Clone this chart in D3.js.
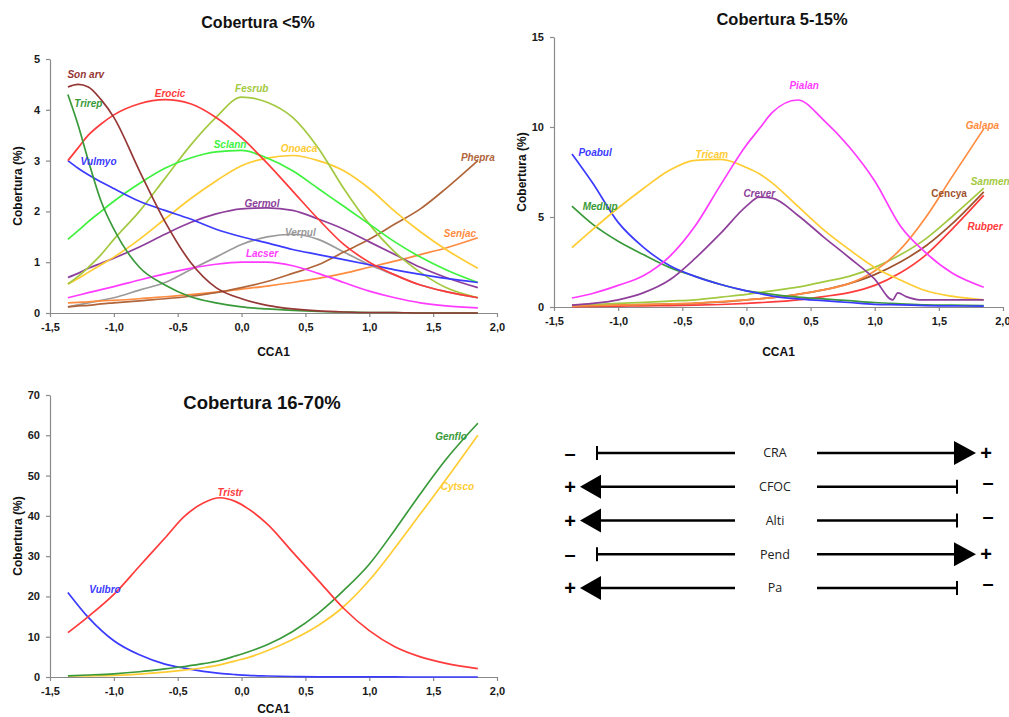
<!DOCTYPE html>
<html>
<head>
<meta charset="utf-8">
<script src="https://cdn.jsdelivr.net/npm/d3@7/dist/d3.min.js"></script>
<style>
  body { margin: 0; background: #fff; }
  svg { display: block; font-family: Arial, "Liberation Sans", sans-serif; }
  .axis path, .axis line { stroke: #8a8a8a; stroke-width: 1.2; }
  .axis text { font-size: 11px; font-weight: bold; fill: #1a1a1a; font-family: Arial, "Liberation Sans", sans-serif; }
</style>
</head>
<body>
<svg id="chart" width="1009" height="717"></svg>
<script>
// ---------- DATA ----------
const xTicks = [-1.5, -1.0, -0.5, 0.0, 0.5, 1.0, 1.5, 2.0];

// Panel 1: Cobertura <5%
const grid1 = [-1.36, -1.28, -1.2, -1.1, -1.0, -0.8, -0.6, -0.4, -0.2, 0, 0.2, 0.4, 0.6, 0.8, 1.0, 1.2, 1.4, 1.6, 1.85];
const sonArv = [4.45, 4.5, 4.45, 4.2, 3.85, 2.8, 1.8, 1.0, 0.5, 0.28, 0.15, 0.08, 0.04, 0.02, 0.01, 0.01, 0, 0, 0];
const trirep = [4.3, 3.7, 3.0, 2.2, 1.65, 0.9, 0.55, 0.32, 0.2, 0.12, 0.08, 0.05, 0.03, 0.02, 0.01, 0.01, 0, 0, 0];
const erocic = [3.0, 3.25, 3.5, 3.72, 3.9, 4.12, 4.2, 4.12, 3.85, 3.45, 2.95, 2.4, 1.85, 1.35, 1.0, 0.75, 0.55, 0.42, 0.3];
const fesrub = [0.57, 0.72, 0.9, 1.15, 1.45, 2.0, 2.65, 3.3, 3.85, 4.25, 4.15, 3.85, 3.25, 2.45, 1.75, 1.2, 0.8, 0.5, 0.3];
const sclann = [1.45, 1.62, 1.8, 2.0, 2.2, 2.55, 2.85, 3.05, 3.17, 3.2, 3.05, 2.8, 2.45, 2.1, 1.75, 1.4, 1.1, 0.85, 0.6];
const onoaca = [0.57, 0.68, 0.8, 0.95, 1.1, 1.45, 1.85, 2.25, 2.6, 2.9, 3.05, 3.1, 3.0, 2.8, 2.45, 2.0, 1.6, 1.25, 0.88];
const vulmyo = [3.0, 2.85, 2.72, 2.58, 2.45, 2.2, 2.02, 1.85, 1.65, 1.5, 1.38, 1.25, 1.15, 1.05, 0.95, 0.85, 0.76, 0.68, 0.6];
const germol = [0.7, 0.78, 0.88, 0.98, 1.08, 1.3, 1.55, 1.78, 1.95, 2.05, 2.07, 2.02, 1.85, 1.65, 1.4, 1.15, 0.9, 0.7, 0.5];
const verpul = [0.12, 0.16, 0.2, 0.25, 0.3, 0.45, 0.6, 0.85, 1.1, 1.35, 1.5, 1.55, 1.45, 1.2, 0.95, 0.75, 0.55, 0.42, 0.3];
const lacser = [0.3, 0.35, 0.4, 0.46, 0.52, 0.65, 0.77, 0.88, 0.96, 1.0, 1.0, 0.93, 0.78, 0.6, 0.43, 0.3, 0.2, 0.14, 0.1];
const phepra = [0.12, 0.14, 0.15, 0.18, 0.2, 0.24, 0.28, 0.33, 0.4, 0.5, 0.62, 0.78, 0.95, 1.2, 1.45, 1.75, 2.05, 2.45, 3.0];
const senjac = [0.2, 0.21, 0.22, 0.24, 0.25, 0.28, 0.32, 0.36, 0.41, 0.47, 0.53, 0.6, 0.68, 0.78, 0.9, 1.02, 1.15, 1.28, 1.48];
const yTicks1 = [0, 1, 2, 3, 4, 5];

// Panel 2: Cobertura 5-15%
const grid2 = [-1.36, -1.2, -1.0, -0.8, -0.6, -0.4, -0.2, 0, 0.1, 0.2, 0.4, 0.6, 0.8, 1.0, 1.2, 1.4, 1.6, 1.85];
const pialan = [0.5, 0.75, 1.2, 1.75, 2.8, 4.5, 6.8, 9.0, 9.9, 10.8, 11.5, 10.4, 8.9, 7.0, 4.5, 3.0, 1.9, 1.1];
const tricam = [3.3, 4.3, 5.5, 6.6, 7.6, 8.15, 8.2, 7.75, 7.4, 6.9, 5.6, 4.3, 3.2, 2.2, 1.5, 0.9, 0.6, 0.4];
const poabul = [8.5, 6.9, 4.7, 3.3, 2.3, 1.7, 1.25, 0.9, 0.75, 0.6, 0.45, 0.35, 0.25, 0.15, 0.12, 0.08, 0.06, 0.05];
const medlup = [5.6, 4.6, 3.65, 2.9, 2.2, 1.7, 1.25, 0.9, 0.8, 0.7, 0.55, 0.45, 0.35, 0.25, 0.18, 0.12, 0.1, 0.08];
const galapa = [0.05, 0.07, 0.1, 0.13, 0.17, 0.22, 0.3, 0.4, 0.45, 0.52, 0.7, 0.95, 1.3, 2.0, 3.2, 5.0, 7.2, 9.9];
const sanmen = [0.1, 0.13, 0.2, 0.26, 0.33, 0.4, 0.55, 0.7, 0.8, 0.9, 1.1, 1.4, 1.7, 2.2, 2.9, 3.8, 5.0, 6.6];
const cencya = [0.05, 0.07, 0.1, 0.13, 0.16, 0.2, 0.28, 0.4, 0.45, 0.52, 0.7, 0.95, 1.3, 1.8, 2.5, 3.4, 4.6, 6.4];
const rubper = [0.02, 0.03, 0.05, 0.06, 0.08, 0.1, 0.14, 0.2, 0.24, 0.28, 0.4, 0.58, 0.8, 1.2, 1.9, 2.9, 4.3, 6.2];
const creverX = [-1.36, -1.2, -1.0, -0.8, -0.6, -0.4, -0.2, 0, 0.1, 0.2, 0.4, 0.6, 0.8, 1.0, 1.14, 1.18, 1.25, 1.35, 1.6, 1.85];
const creverY = [0.1, 0.2, 0.4, 0.8, 1.5, 2.7, 4.1, 5.6, 6.1, 6.05, 5.1, 3.9, 2.75, 1.55, 0.4, 0.78, 0.56, 0.4, 0.4, 0.4];
const yTicks2 = [0, 5, 10, 15];

// Panel 3: Cobertura 16-70%
const grid3 = [-1.36, -1.2, -1.0, -0.8, -0.6, -0.45, -0.3, -0.17, -0.05, 0.05, 0.2, 0.4, 0.6, 0.8, 1.0, 1.2, 1.4, 1.6, 1.85];
const tristr = [11, 15, 20.5, 27.5, 34.5, 39.8, 43.2, 44.5, 43.6, 41.8, 38, 31, 24, 17, 11.5, 7.5, 5, 3.4, 2.1];
const vulbro = [21, 14.8, 9, 5.5, 3.2, 2.2, 1.4, 0.9, 0.6, 0.4, 0.25, 0.12, 0.05, 0.03, 0.02, 0.01, 0, 0, 0];
const genflo = [0.3, 0.5, 0.8, 1.3, 2.0, 2.6, 3.3, 4.1, 5.2, 6.2, 8.0, 11.3, 15.8, 21.5, 28, 36.5, 45.5, 54, 63];
const cytsco = [0.2, 0.3, 0.4, 0.7, 1.2, 1.7, 2.3, 3.0, 4.0, 4.8, 6.5, 9.3, 12.8, 17.5, 24, 32, 40.5, 49, 60];
const yTicks3 = [0, 10, 20, 30, 40, 50, 60, 70];

// Species labels: [name, CCA1, cobertura]
const labels1 = [["Son arv", -1.22, 4.69], ["Trirep", -1.2, 4.13], ["Erocic", -0.56, 4.33], ["Fesrub", 0.08, 4.41],
  ["Sclann", -0.09, 3.31], ["Onoaca", 0.45, 3.23], ["Vulmyo", -1.12, 2.99], ["Phepra", 1.85, 3.07],
  ["Germol", 0.16, 2.15], ["Verpul", 0.46, 1.59], ["Senjac", 1.71, 1.56], ["Lacser", 0.16, 1.18]];
const labels2 = [["Poabul", -1.18, 8.61], ["Medlup", -1.14, 5.61], ["Tricam", -0.27, 8.5], ["Pialan", 0.45, 12.28],
  ["Crever", 0.1, 6.33], ["Galapa", 1.84, 10.11], ["Sanmen", 1.9, 7.0], ["Cencya", 1.58, 6.33], ["Rubper", 1.86, 4.5]];
const labels3 = [["Vulbro", -1.07, 21.8], ["Tristr", -0.09, 45.9], ["Genflo", 1.64, 59.8], ["Cytsco", 1.69, 47.4]];

// Legend (environmental gradients along CCA1)
const legendVars = ["CRA", "CFOC", "Alti", "Pend", "Pa"];
const legendSign = ["+", "-", "-", "+", "-"];   // sign at the positive end of CCA1

// ---------- STYLE ----------
const colors = {
  "Son arv": "#953735", "Trirep": "#3a9a3a", "Erocic": "#ff3b3b", "Fesrub": "#a3c940", "Sclann": "#3ef23e",
  "Onoaca": "#ffcc33", "Vulmyo": "#3b3bff", "Germol": "#8e3f9b", "Verpul": "#9a9a9a", "Lacser": "#ff3bff",
  "Phepra": "#b0653a", "Senjac": "#ff8c40",
  "Poabul": "#3b3bff", "Medlup": "#3a9a3a", "Tricam": "#ffcc33", "Pialan": "#ff3bff", "Crever": "#8e3f9b",
  "Galapa": "#ff8c40", "Sanmen": "#a3c940", "Cencya": "#a0522d", "Rubper": "#ff3b3b",
  "Tristr": "#ff3b3b", "Vulbro": "#3b3bff", "Genflo": "#3a9a3a", "Cytsco": "#ffcc33"
};

const svg = d3.select("#chart");
const fmtX = v => v.toFixed(1).replace(".", ",");

function panel(opts) {
  const x = d3.scaleLinear().domain([-1.5, 2]).range(opts.xr);
  const y = d3.scaleLinear().domain(opts.yd).range(opts.yr);
  const g = svg.append("g");

  const xa = g.append("g").attr("class", "axis")
    .attr("transform", `translate(0,${opts.yr[0]})`)
    .call(d3.axisBottom(x).tickValues(xTicks).tickFormat(fmtX).tickSize(4).tickSizeOuter(0).tickPadding(6));
  if (opts.clipLast) {
    xa.selectAll(".tick").filter(d => d === 2.0).select("text")
      .attr("text-anchor", "end").attr("dx", "7px");
  }
  g.append("g").attr("class", "axis")
    .attr("transform", `translate(${opts.xr[0]},0)`)
    .call(d3.axisLeft(y).tickValues(opts.yt).tickFormat(d3.format("d")).tickSize(4).tickSizeOuter(0).tickPadding(6));

  const line = d3.line().x(d => x(d[0])).y(d => y(d[1])).curve(d3.curveMonotoneX);
  opts.series.forEach(s => {
    const pts = s.xs.map((v, i) => [v, s.ys[i]]);
    g.append("path").attr("d", line(pts)).attr("fill", "none")
      .attr("stroke", colors[s.name]).attr("stroke-width", 1.7);
  });

  opts.labels.forEach(l => {
    g.append("text").attr("x", x(l[1])).attr("y", y(l[2])).attr("dy", "0.35em")
      .attr("text-anchor", "middle").attr("font-size", 10).attr("font-weight", "bold")
      .attr("font-style", l[0] === "Cencya" ? "normal" : "italic")
      .attr("fill", colors[l[0]]).text(l[0]);
  });

  g.append("text").attr("x", opts.title[1]).attr("y", opts.title[2])
    .attr("text-anchor", "middle").attr("font-size", opts.title[3]).attr("font-weight", "bold")
    .attr("fill", "#111").text(opts.title[0]);

  const cy = (opts.yr[0] + opts.yr[1]) / 2;
  g.append("text").attr("transform", `translate(${opts.ylabX},${cy}) rotate(-90)`)
    .attr("text-anchor", "middle").attr("dy", "0.35em").attr("font-size", 12).attr("font-weight", "bold")
    .attr("fill", "#111").text("Cobertura (%)");
  g.append("text").attr("x", (opts.xr[0] + opts.xr[1]) / 2).attr("y", opts.xlabY)
    .attr("text-anchor", "middle").attr("dy", "0.35em").attr("font-size", 12).attr("font-weight", "bold")
    .attr("fill", "#111").text("CCA1");
}

panel({
  xr: [50, 497], yd: [0, 5], yr: [313, 59], yt: yTicks1,
  series: [
    {name: "Verpul", xs: grid1, ys: verpul}, {name: "Senjac", xs: grid1, ys: senjac},
    {name: "Phepra", xs: grid1, ys: phepra}, {name: "Lacser", xs: grid1, ys: lacser},
    {name: "Germol", xs: grid1, ys: germol}, {name: "Onoaca", xs: grid1, ys: onoaca},
    {name: "Fesrub", xs: grid1, ys: fesrub}, {name: "Sclann", xs: grid1, ys: sclann},
    {name: "Vulmyo", xs: grid1, ys: vulmyo}, {name: "Erocic", xs: grid1, ys: erocic},
    {name: "Trirep", xs: grid1, ys: trirep}, {name: "Son arv", xs: grid1, ys: sonArv}
  ],
  labels: labels1, title: ["Cobertura <5%", 258, 28, 16], ylabX: 18, xlabY: 352
});

panel({
  xr: [554, 1003], yd: [0, 15], yr: [307, 37], yt: yTicks2, clipLast: true,
  series: [
    {name: "Rubper", xs: grid2, ys: rubper}, {name: "Cencya", xs: grid2, ys: cencya},
    {name: "Sanmen", xs: grid2, ys: sanmen}, {name: "Galapa", xs: grid2, ys: galapa},
    {name: "Medlup", xs: grid2, ys: medlup}, {name: "Poabul", xs: grid2, ys: poabul},
    {name: "Tricam", xs: grid2, ys: tricam}, {name: "Crever", xs: creverX, ys: creverY},
    {name: "Pialan", xs: grid2, ys: pialan}
  ],
  labels: labels2, title: ["Cobertura 5-15%", 782, 25, 16.5], ylabX: 522, xlabY: 352
});

panel({
  xr: [50, 497], yd: [0, 70], yr: [677, 395], yt: yTicks3,
  series: [
    {name: "Vulbro", xs: grid3, ys: vulbro}, {name: "Cytsco", xs: grid3, ys: cytsco},
    {name: "Genflo", xs: grid3, ys: genflo}, {name: "Tristr", xs: grid3, ys: tristr}
  ],
  labels: labels3, title: ["Cobertura 16-70%", 262, 409, 18.5], ylabX: 18, xlabY: 709
});

// ---------- LEGEND ----------
const rowY = d3.scalePoint().domain(legendVars).range([453, 588]);
const lg = svg.append("g");
legendVars.forEach((v, i) => {
  const yy = rowY(v);
  const posRight = legendSign[i] === "+";
  const leftStart = posRight ? 597 : 600;
  lg.append("line").attr("x1", leftStart).attr("x2", 735).attr("y1", yy).attr("y2", yy)
    .attr("stroke", "#000").attr("stroke-width", 2.6);
  const rightEnd = posRight ? 955 : 957;
  lg.append("line").attr("x1", 817).attr("x2", rightEnd).attr("y1", yy).attr("y2", yy)
    .attr("stroke", "#000").attr("stroke-width", 2.6);
  if (posRight) {
    lg.append("line").attr("x1", 597).attr("x2", 597).attr("y1", yy - 7).attr("y2", yy + 7)
      .attr("stroke", "#000").attr("stroke-width", 2);
    lg.append("path").attr("d", `M${rightEnd - 1},${yy - 12} L${rightEnd + 21},${yy} L${rightEnd - 1},${yy + 12} Z`).attr("fill", "#000");
    lg.append("text").attr("x", 570).attr("y", yy).attr("dy", "0.35em").attr("text-anchor", "middle")
      .attr("font-size", 20).attr("font-weight", "bold").text("–");
    lg.append("text").attr("x", 986).attr("y", yy).attr("dy", "0.35em").attr("text-anchor", "middle")
      .attr("font-size", 20).attr("font-weight", "bold").text("+");
  } else {
    lg.append("path").attr("d", `M${leftStart + 1},${yy - 12} L${leftStart - 20},${yy} L${leftStart + 1},${yy + 12} Z`).attr("fill", "#000");
    lg.append("line").attr("x1", rightEnd).attr("x2", rightEnd).attr("y1", yy - 7).attr("y2", yy + 7)
      .attr("stroke", "#000").attr("stroke-width", 2);
    lg.append("text").attr("x", 570).attr("y", yy).attr("dy", "0.35em").attr("text-anchor", "middle")
      .attr("font-size", 20).attr("font-weight", "bold").text("+");
    lg.append("text").attr("x", 988).attr("y", yy - 5).attr("dy", "0.35em").attr("text-anchor", "middle")
      .attr("font-size", 20).attr("font-weight", "bold").text("–");
  }
  lg.append("text").attr("x", 775).attr("y", yy).attr("dy", "0.35em").attr("text-anchor", "middle")
    .attr("font-size", 12.5).attr("fill", "#222").attr("font-family", "'Open Sans', Arial, sans-serif").text(v);
});
</script>
</body>
</html>
